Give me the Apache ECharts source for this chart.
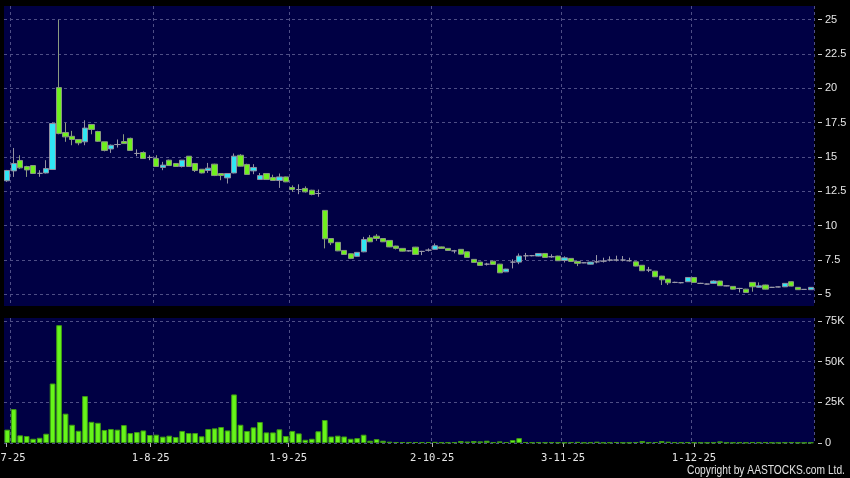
<!DOCTYPE html>
<html>
<head>
<meta charset="utf-8">
<script src="https://cdn.jsdelivr.net/npm/echarts@6/dist/echarts.min.js"></script>
<style>
html,body{margin:0;padding:0;background:#000;}
#c{width:850px;height:478px;}
</style>
</head>
<body>
<div id="c"></div>
<script>
const dates = [
'2-7-25','3-7-25','4-7-25','7-7-25','8-7-25','9-7-25','10-7-25','11-7-25','14-7-25','15-7-25','16-7-25','17-7-25','18-7-25','21-7-25','22-7-25','23-7-25','24-7-25','25-7-25','28-7-25','29-7-25','30-7-25','31-7-25',
'1-8-25','4-8-25','5-8-25','6-8-25','7-8-25','8-8-25','11-8-25','12-8-25','13-8-25','14-8-25','15-8-25','18-8-25','19-8-25','20-8-25','21-8-25','22-8-25','25-8-25','26-8-25','27-8-25','28-8-25','29-8-25',
'1-9-25','2-9-25','3-9-25','4-9-25','5-9-25','8-9-25','9-9-25','10-9-25','11-9-25','12-9-25','15-9-25','16-9-25','17-9-25','18-9-25','19-9-25','22-9-25','23-9-25','24-9-25','25-9-25','26-9-25','29-9-25','30-9-25',
'2-10-25','3-10-25','6-10-25','8-10-25','9-10-25','10-10-25','13-10-25','14-10-25','15-10-25','16-10-25','17-10-25','20-10-25','21-10-25','22-10-25','23-10-25','24-10-25','27-10-25','28-10-25','30-10-25','31-10-25',
'3-11-25','4-11-25','5-11-25','6-11-25','7-11-25','10-11-25','11-11-25','12-11-25','13-11-25','14-11-25','17-11-25','18-11-25','19-11-25','20-11-25','21-11-25','24-11-25','25-11-25','26-11-25','27-11-25','28-11-25',
'1-12-25','2-12-25','3-12-25','4-12-25','5-12-25','8-12-25','9-12-25','10-12-25','11-12-25','12-12-25','15-12-25','16-12-25','17-12-25','18-12-25','19-12-25','22-12-25','23-12-25','24-12-25','29-12-25','30-12-25'
];
const dateTickLabels = ['2-7-25','1-8-25','1-9-25','2-10-25','3-11-25','1-12-25'];
const priceTicks = [5, 7.5, 10, 12.5, 15, 17.5, 20, 22.5, 25];
const volumeTicks = [0, 25, 50, 75];

const opens = [13.26,13.98,14.74,14.3,14.37,13.8,13.83,14.08,20.05,16.78,
16.5,16.27,16.1,17.36,16.85,16.1,15.58,15.9,16.12,16.35,
15.25,15.32,14.96,14.88,14.23,14.76,14.52,14.3,15.05,14.52,
14.1,14.01,14.47,13.79,13.47,13.83,15.12,14.45,13.98,13.35,
13.79,13.5,13.28,13.54,12.77,12.62,12.7,12.57,12.33,11.1,
9.05,8.77,8.18,7.94,7.75,8.08,9.1,9.22,9.05,8.91,
8.5,8.33,8.15,8.42,8.11,8.2,8.26,8.44,8.33,8.15,
8.26,8.08,7.53,7.33,7.18,7.4,7.18,6.62,7.33,7.33,
7.79,7.8,7.77,7.96,7.72,7.77,7.45,7.6,7.38,7.28,
7.18,7.35,7.4,7.48,7.48,7.48,7.43,7.35,7.1,6.75,
6.67,6.31,6.09,5.85,5.83,5.9,6.21,5.78,5.73,5.78,
5.95,5.6,5.56,5.41,5.36,5.85,5.49,5.66,5.49,5.52,
5.53,5.9,5.49,5.34,5.32];
const closes = [14.01,14.52,14.2,14.05,13.79,13.8,14.15,17.43,16.7,16.46,
16.27,16.02,17.1,17.0,16.14,15.47,15.85,15.9,15.97,15.47,
15.25,14.88,14.96,14.3,14.4,14.37,14.3,14.76,14.3,14.01,
13.83,14.18,13.64,13.64,13.79,15.05,14.32,13.72,14.23,13.64,
13.35,13.28,13.54,13.18,12.62,12.62,12.45,12.26,12.33,9.03,
8.74,8.15,7.89,7.6,8.04,8.98,8.81,9.05,8.81,8.44,
8.33,8.13,8.15,7.89,8.11,8.2,8.52,8.33,8.18,8.15,
7.91,7.67,7.31,7.09,7.18,7.16,6.55,6.82,7.33,7.77,
7.79,7.8,7.96,7.67,7.72,7.43,7.64,7.38,7.24,7.28,
7.33,7.35,7.4,7.48,7.48,7.48,7.43,7.04,6.7,6.75,
6.26,6.04,5.82,5.85,5.83,6.21,5.85,5.78,5.73,5.95,
5.61,5.6,5.36,5.41,5.12,5.53,5.6,5.36,5.49,5.52,
5.78,5.58,5.32,5.34,5.49];
const lows = [13.18,13.54,14.13,13.54,13.75,13.55,13.79,14.05,16.65,16.1,
15.85,15.85,15.85,16.65,16.1,15.4,15.29,15.68,15.95,15.45,
15.05,14.85,14.76,14.28,14.03,14.35,14.28,14.23,14.3,13.9,
13.8,13.83,13.6,13.3,13.06,13.8,14.3,13.7,13.74,13.33,
13.33,13.26,12.74,13.16,12.45,12.28,12.4,12.2,12.09,8.33,
8.57,8.13,7.87,7.55,7.72,8.05,8.79,8.88,8.79,8.42,
8.25,8.11,8.1,7.87,7.84,8.1,8.24,8.31,8.16,7.97,
7.89,7.65,7.29,7.07,7.08,7.14,6.53,6.6,6.87,7.18,
7.48,7.75,7.75,7.65,7.65,7.41,7.3,7.36,7.04,7.25,
7.16,7.24,7.3,7.38,7.38,7.38,7.37,7.02,6.68,6.6,
6.24,5.66,5.66,5.8,5.78,5.88,5.83,5.74,5.7,5.76,
5.59,5.57,5.34,5.12,5.1,5.17,5.47,5.34,5.46,5.49,
5.51,5.56,5.3,5.31,5.3];
const highs = [14.05,15.65,15.12,14.35,14.4,14.03,14.76,17.5,25.0,17.5,
16.9,16.3,17.67,17.4,16.9,16.1,15.9,16.27,16.65,16.4,
15.55,15.4,15.12,15.12,14.64,14.8,14.55,14.78,15.05,14.55,
14.1,14.56,14.5,13.8,13.8,15.25,15.2,14.5,14.47,13.83,
13.8,13.7,13.79,13.56,12.92,13.0,12.85,12.6,12.62,11.1,
9.07,8.8,8.2,7.96,8.06,9.17,9.3,9.37,9.07,8.93,
8.52,8.35,8.18,8.44,8.15,8.33,8.69,8.46,8.35,8.22,
8.28,8.1,7.55,7.35,7.28,7.42,7.2,6.84,7.53,7.96,
8.0,7.85,7.98,7.98,7.9,7.79,7.75,7.62,7.4,7.3,
7.35,7.84,7.65,7.75,7.8,7.77,7.65,7.37,7.12,6.98,
6.69,6.33,6.11,5.9,5.88,6.23,6.23,5.82,5.76,6.0,
5.97,5.63,5.58,5.45,5.38,5.87,5.85,5.68,5.52,5.55,
5.8,5.92,5.51,5.37,5.51];
// volume in thousands of shares
const volumesK = [8.2,20.8,4.7,4.3,2.6,3.2,5.7,36.5,72.3,18,
11.2,7.5,28.8,13,12.4,8,8.6,8.2,11,6.1,
6.7,7.7,4.9,5.1,3.9,4.5,3.7,7.4,6.1,6.1,
4.1,8.6,9,9.8,7.7,29.8,11.2,7.4,9.6,12.9,
6.5,6.5,8.4,4.3,7.4,5.9,2,2.6,7.2,14.1,
4,4.5,4,2.6,3,5.1,1.4,2.4,1.4,0.8,
0.6,0.6,0.5,0.6,0.5,0.6,0.7,0.4,0.4,0.5,
1.2,0.9,1.2,1,1.4,0.5,1,0.6,1.8,3,
0.6,0.4,0.5,0.4,0.5,0.4,0.3,0.5,0.7,0.3,
0.4,0.8,0.3,0.4,0.6,0.3,0.3,0.6,1.2,0.4,
0.6,1.2,0.8,0.5,0.4,0.5,0.4,0.3,0.3,0.4,
1,0.3,0.3,0.4,0.3,0.5,0.4,0.5,0.3,0.2,
0.4,0.5,0.3,0.2,0.3];

const candleData = dates.map((d, i) => [opens[i], closes[i], lows[i], highs[i]]);

const GRID_COLOR = '#4e4e86';
const LABEL_COLOR = '#e6e6e6';
const FONT = 'Liberation Sans';

const splitX = {
  show: true,
  interval: (i) => i > 0 && dateTickLabels.indexOf(dates[i - 1]) >= 0,
  lineStyle: { color: GRID_COLOR, type: [3, 3], width: 1 }
};
const splitY = { show: true, lineStyle: { color: GRID_COLOR, type: [3, 3], width: 1 } };

const chart = echarts.init(document.getElementById('c'), null, { renderer: 'canvas' });
chart.setOption({
  backgroundColor: '#000000',
  animation: false,
  grid: [
    { left: 4, right: 36, top: 6, height: 300, show: true, backgroundColor: '#000044', borderWidth: 0,
      containLabel: false, outerBoundsMode: 'none' },
    { left: 4, right: 36, top: 318, height: 125, show: true, backgroundColor: '#000044', borderWidth: 0,
      containLabel: false, outerBoundsMode: 'none' },
    { left: 6.7, right: 31.7, top: 318, height: 125, show: false,
      containLabel: false, outerBoundsMode: 'none' }
  ],
  xAxis: [
    { gridIndex: 0, type: 'category', data: dates, boundaryGap: true,
      axisLine: { show: false }, axisTick: { show: false }, axisLabel: { show: false }, splitLine: splitX },
    { gridIndex: 1, type: 'category', data: dates, boundaryGap: true,
      axisLine: { show: false }, axisTick: { show: false }, axisLabel: { show: false }, splitLine: splitX },
    { gridIndex: 2, type: 'category', data: dates, boundaryGap: false, offset: 3,
      axisLine: { show: false },
      axisTick: { show: true, length: 4, interval: (i) => dateTickLabels.indexOf(dates[i]) >= 0,
                  lineStyle: { color: '#b0b0b0' } },
      axisLabel: { show: true, interval: (i) => dateTickLabels.indexOf(dates[i]) >= 0,
                   margin: 7, color: LABEL_COLOR, fontSize: 10.5, fontFamily: 'DejaVu Sans Mono' },
      splitLine: { show: false } }
  ],
  yAxis: [
    { gridIndex: 0, type: 'value', position: 'right', min: 4.13, max: 26, offset: 4,
      axisLine: { show: false },
      axisTick: { show: true, length: 4, customValues: priceTicks, lineStyle: { color: '#c8c8c8' } },
      axisLabel: { customValues: priceTicks, margin: 7, color: LABEL_COLOR, fontSize: 11, fontFamily: FONT },
      splitLine: splitY },
    { gridIndex: 1, type: 'value', position: 'right', min: 0, max: 76.7, offset: 4,
      axisLine: { show: false },
      axisTick: { show: true, length: 4, customValues: volumeTicks, lineStyle: { color: '#c8c8c8' } },
      axisLabel: { customValues: volumeTicks, margin: 7, color: LABEL_COLOR, fontSize: 11, fontFamily: FONT,
                   formatter: (v) => v === 0 ? '0' : v + 'K' },
      splitLine: splitY },
    { gridIndex: 2, type: 'value', show: false }
  ],
  series: [
    { type: 'candlestick', xAxisIndex: 0, yAxisIndex: 0, data: candleData, barWidth: '88%',
      itemStyle: { color: '#30e6f4', color0: '#6ff01e', borderColor: '#9090a0', borderColor0: '#8a9a80',
                   borderColorDoji: '#9a9aa8', borderWidth: 1 } },
    { type: 'bar', xAxisIndex: 1, yAxisIndex: 1, data: volumesK, barCategoryGap: '12%',
      itemStyle: { color: '#66f51a', borderColor: '#3f9a14', borderWidth: 1 } }
  ],
  graphic: [
    { type: 'text', left: 687, top: 465, scaleX: 0.853, scaleY: 1,
      style: { text: 'Copyright by AASTOCKS.com Ltd.', fill: '#e0e0e0',
               font: '12px "Liberation Sans"' } }
  ]
});
</script>
</body>
</html>
